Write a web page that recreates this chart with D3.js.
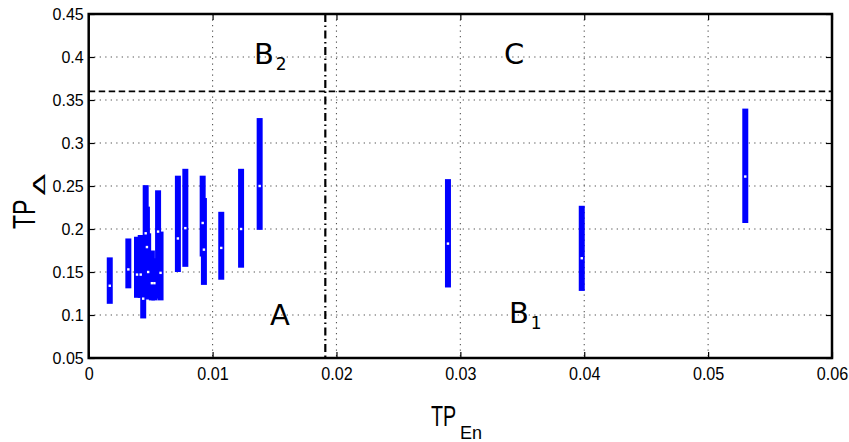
<!DOCTYPE html>
<html>
<head>
<meta charset="utf-8">
<script src="https://cdn.jsdelivr.net/npm/d3@7"></script>
<style>
  body { margin: 0; background: #fff; }
  svg { display: block; }
  .tick-label { font-family: "Liberation Sans", Arial, sans-serif; fill: #000; }
</style>
</head>
<body>
<svg width="849" height="442"></svg>
<script>
// x position of each range bar (TP_En) and its low / middle / high TP_delta values
var xVals = [0.0017, 0.0032, 0.0039, 0.0042, 0.0044, 0.0046, 0.0047, 0.0048, 0.0051, 0.0053, 0.0056, 0.0058,
             0.0072, 0.0078, 0.0092, 0.0093, 0.0107, 0.0123, 0.0138, 0.0290, 0.0398, 0.0530];
var lows  = [0.113, 0.131, 0.120, 0.120, 0.096, 0.121, 0.121, 0.118, 0.117, 0.117, 0.119, 0.117,
             0.150, 0.156, 0.168, 0.135, 0.141, 0.155, 0.199, 0.132, 0.128, 0.207];
var mids  = [0.134, 0.153, 0.147, 0.147, 0.119, 0.195, 0.179, 0.150, 0.137, 0.137, 0.197, 0.149,
             0.189, 0.201, 0.207, 0.176, 0.178, 0.200, 0.250, 0.183, 0.166, 0.261];
var highs = [0.167, 0.189, 0.191, 0.193, 0.185, 0.251, 0.226, 0.195, 0.175, 0.166, 0.245, 0.197,
             0.262, 0.270, 0.262, 0.236, 0.220, 0.270, 0.329, 0.258, 0.227, 0.340];

var xTicks = [0, 0.01, 0.02, 0.03, 0.04, 0.05, 0.06];
var xTickLabels = ["0", "0.01", "0.02", "0.03", "0.04", "0.05", "0.06"];
var yTicks = [0.05, 0.1, 0.15, 0.2, 0.25, 0.3, 0.35, 0.4, 0.45];
var yTickLabels = ["0.05", "0.1", "0.15", "0.2", "0.25", "0.3", "0.35", "0.4", "0.45"];

var xThreshold = 0.0191;   // dash-dot vertical line
var yThreshold = 0.36;     // dashed horizontal line

// region labels: main letter, subscript, anchor (data units)
var regionText = ["B", "C", "A", "B"];
var regionSub  = ["2", "", "", "1"];
var regionX    = [0.01334, 0.03352, 0.01463, 0.03392];
var regionY    = [0.392, 0.3913, 0.0884, 0.0904];

var svg = d3.select("svg");
var margin = {top: 14, left: 88.7};
var width = 832 - margin.left;
var height = 358 - margin.top;

var g = svg.append("g")
    .attr("transform", "translate(" + margin.left + "," + margin.top + ")");

var x = d3.scaleLinear().domain([0, 0.06]).range([0, width]);
var y = d3.scaleLinear().domain([0.05, 0.45]).range([height, 0]);

//---------------------------------------------------------------------
// dotted grid
g.selectAll(".vgrid")
    .data(xTicks.slice(1, -1))
    .enter().append("line")
    .attr("x1", function(d) { return x(d); })
    .attr("x2", function(d) { return x(d); })
    .attr("y1", 0).attr("y2", height)
    .attr("stroke", "#555")
    .attr("stroke-width", 1.1)
    .attr("stroke-dasharray", "1.3,4.2");

g.selectAll(".hgrid")
    .data(yTicks.slice(1, -1))
    .enter().append("line")
    .attr("y1", function(d) { return y(d); })
    .attr("y2", function(d) { return y(d); })
    .attr("x1", 0).attr("x2", width)
    .attr("stroke", "#555")
    .attr("stroke-width", 1.1)
    .attr("stroke-dasharray", "1.3,4.2");

//---------------------------------------------------------------------
// threshold lines
g.append("line")
    .attr("x1", 0).attr("x2", width)
    .attr("y1", y(yThreshold)).attr("y2", y(yThreshold))
    .attr("stroke", "#000")
    .attr("stroke-width", 1.8)
    .attr("stroke-dasharray", "6.5,3.5");

g.append("line")
    .attr("x1", x(xThreshold)).attr("x2", x(xThreshold))
    .attr("y1", 0).attr("y2", height)
    .attr("stroke", "#000")
    .attr("stroke-width", 2.2)
    .attr("stroke-dasharray", "8,3.5,1.5,3.5");

//---------------------------------------------------------------------
// range bars
var bars = xVals.map(function(v, i) {
    return {x: v, lo: lows[i], mid: mids[i], hi: highs[i]};
});

g.selectAll(".bar")
    .data(bars)
    .enter().append("line")
    .attr("class", "bar")
    .attr("x1", function(d) { return x(d.x); })
    .attr("x2", function(d) { return x(d.x); })
    .attr("y1", function(d) { return y(d.lo); })
    .attr("y2", function(d) { return y(d.hi); })
    .attr("stroke", "#0000ff")
    .attr("stroke-width", 6);

g.selectAll(".mid")
    .data(bars)
    .enter().append("rect")
    .attr("class", "mid")
    .attr("x", function(d) { return x(d.x) - 1.2; })
    .attr("y", function(d) { return y(d.mid) - 1.2; })
    .attr("width", 2.4).attr("height", 2.4)
    .attr("fill", "#fff");

//---------------------------------------------------------------------
// axes (MATLAB style: inward ticks on all four sides, box)
var xAxis = d3.axisBottom(x).tickValues(xTicks)
    .tickFormat(function(d, i) { return xTickLabels[i]; })
    .tickSizeInner(-6).tickSizeOuter(0).tickPadding(9);
var yAxis = d3.axisLeft(y).tickValues(yTicks)
    .tickFormat(function(d, i) { return yTickLabels[i]; })
    .tickSizeInner(-6).tickSizeOuter(0).tickPadding(5);

var gx = g.append("g").attr("transform", "translate(0," + height + ")").call(xAxis);
var gy = g.append("g").call(yAxis);
g.append("g").call(d3.axisTop(x).tickValues(xTicks).tickFormat("").tickSizeInner(-6).tickSizeOuter(0));
g.append("g").attr("transform", "translate(" + width + ",0)")
    .call(d3.axisRight(y).tickValues(yTicks).tickFormat("").tickSizeInner(-6).tickSizeOuter(0));

g.selectAll(".domain").remove();
g.selectAll(".tick line").attr("stroke", "#000").attr("stroke-width", 1.2);

gx.selectAll("text")
    .attr("class", "tick-label")
    .style("font-size", "19px")
    .attr("transform", "scale(0.85,1)");
gy.selectAll("text")
    .attr("class", "tick-label")
    .style("font-size", "16px");

g.append("rect")
    .attr("x", 0).attr("y", 0)
    .attr("width", width).attr("height", height)
    .attr("fill", "none")
    .attr("stroke", "#000")
    .attr("stroke-width", 2.5);

//---------------------------------------------------------------------
// region labels
regionText.forEach(function(t, i) {
    var txt = g.append("text")
        .attr("x", x(regionX[i]))
        .attr("y", y(regionY[i]))
        .style("font-family", "'DejaVu Sans', sans-serif")
        .style("font-size", "29px")
        .attr("fill", "#000")
        .text(t);
    if (regionSub[i]) {
        txt.append("tspan")
            .attr("dx", 2).attr("dy", 6)
            .style("font-size", "17px")
            .text(regionSub[i]);
    }
});

//---------------------------------------------------------------------
// axis titles
var xt = svg.append("g").attr("transform", "translate(431,425.7) scale(0.68,1)");
xt.append("text")
    .style("font-family", "'Liberation Sans', Arial, sans-serif")
    .style("font-size", "29px")
    .text("TP");
svg.append("text")
    .attr("x", 460).attr("y", 438.5)
    .style("font-family", "'Liberation Sans', Arial, sans-serif")
    .style("font-size", "18px")
    .text("En");

var yt = svg.append("g").attr("transform", "translate(35,229) rotate(-90) scale(0.72,1)");
yt.append("text")
    .style("font-family", "'Liberation Sans', Arial, sans-serif")
    .style("font-size", "32px")
    .text("TP");
svg.append("g").attr("transform", "translate(45,195.5) rotate(-90) scale(2,1)")
    .append("text")
    .style("font-family", "'DejaVu Sans', sans-serif")
    .style("font-size", "16px")
    .text("\u0394");
</script>
</body>
</html>
